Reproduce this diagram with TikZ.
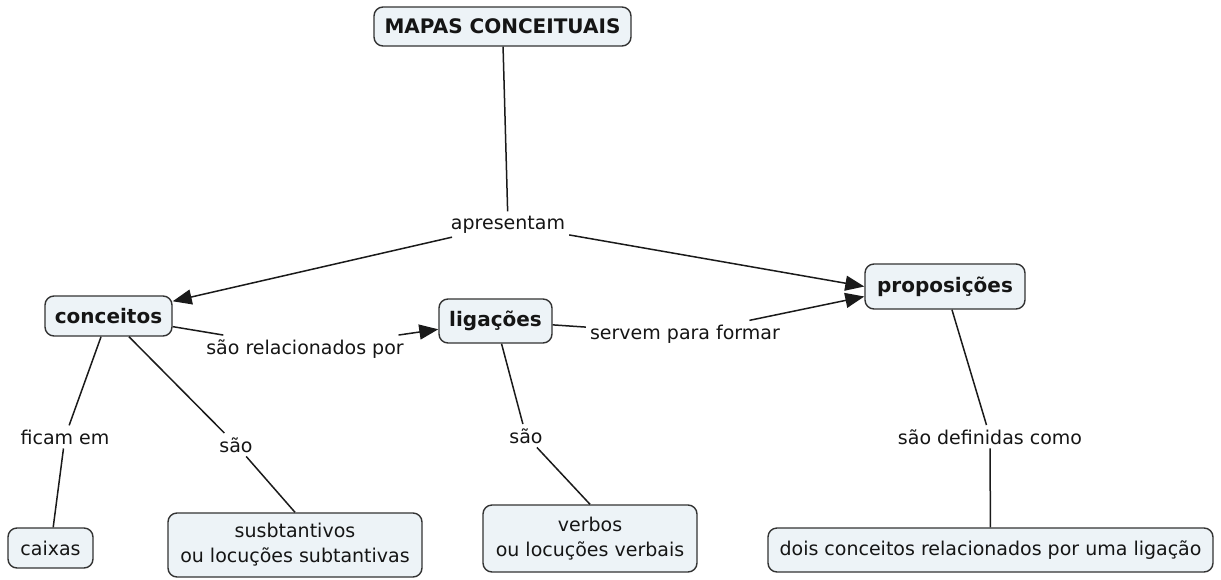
\documentclass[tikz,border=0pt]{standalone}
\usepackage{fontspec}
\setmainfont{DejaVu Sans}
\usetikzlibrary{arrows.meta}
\definecolor{boxfill}{HTML}{EDF3F7}
\definecolor{boxdraw}{HTML}{333333}
\definecolor{linecol}{HTML}{1A1A1A}
\definecolor{txt}{HTML}{151515}
\begin{document}
\begin{tikzpicture}[x=1pt,y=-1pt,
  concept/.style={draw=boxdraw, fill=boxfill, line width=1.4pt, rounded corners=9pt,
    align=center, inner sep=0pt, text=txt, font=\fontsize{19}{25}\selectfont},
  boldconcept/.style={concept, font=\fontsize{20}{25}\selectfont\bfseries},
  lab/.style={inner sep=4pt, anchor=base, text=txt, font=\fontsize{19}{25}\selectfont},
  conn/.style={draw=linecol, line width=1.5pt},
  arr/.style={conn, -{Triangle[length=19pt,width=15pt]}}]
\useasboundingbox (0,0) rectangle (1221,579);
% concept boxes
\node[boldconcept, minimum width=257pt, minimum height=39pt] (mapas) at (502.5,26.5) {MAPAS CONCEITUAIS};
\node[boldconcept, minimum width=127pt, minimum height=40pt] (conc) at (108.5,316) {conceitos};
\node[boldconcept, minimum width=113pt, minimum height=44pt] (lig) at (495.5,321) {ligações};
\node[boldconcept, minimum width=160pt, minimum height=45pt] (prop) at (945,286.5) {proposições};
\node[concept, minimum width=85pt, minimum height=40pt] (caixas) at (50.5,548) {caixas};
\node[concept, minimum width=254pt, minimum height=64pt] (subst) at (295,545) {susbtantivos\\ou locuções subtantivas};
\node[concept, minimum width=214pt, minimum height=67pt] (verbos) at (590,538.5) {verbos\\ou locuções verbais};
\node[concept, minimum width=445pt, minimum height=44pt] (dois) at (990.5,550) {dois conceitos relacionados por uma ligação};
% linking phrases
\node[lab] (apr) at (508,229) {apresentam};
\node[lab] (rel) at (305,354) {são relacionados por};
\node[lab] (serv) at (685,339) {servem para formar};
\node[lab] (ficam) at (65,444) {ficam em};
\node[lab] (sao1) at (236,452) {são};
\node[lab] (sao2) at (526,443) {são};
\node[lab] (def) at (990,444) {são definidas como};
% connectors
\draw[conn] (mapas) -- (apr);
\draw[arr] (apr) -- (conc);
\draw[arr] (apr) -- (prop.west);
\draw[conn] (conc) -- (rel);
\draw[arr] (rel) -- (lig);
\draw[conn] (lig) -- (serv);
\draw[arr] (serv) -- ([yshift=-10pt]prop.west);
\draw[conn] (conc) -- (ficam);
\draw[conn] (ficam) -- (caixas);
\draw[conn] (conc) -- (sao1);
\draw[conn] (sao1) -- (subst.north);
\draw[conn] (lig) -- (sao2);
\draw[conn] (sao2) -- (verbos.north);
\draw[conn] (prop) -- (def);
\draw[conn] (def) -- (dois);
\end{tikzpicture}
\end{document}
